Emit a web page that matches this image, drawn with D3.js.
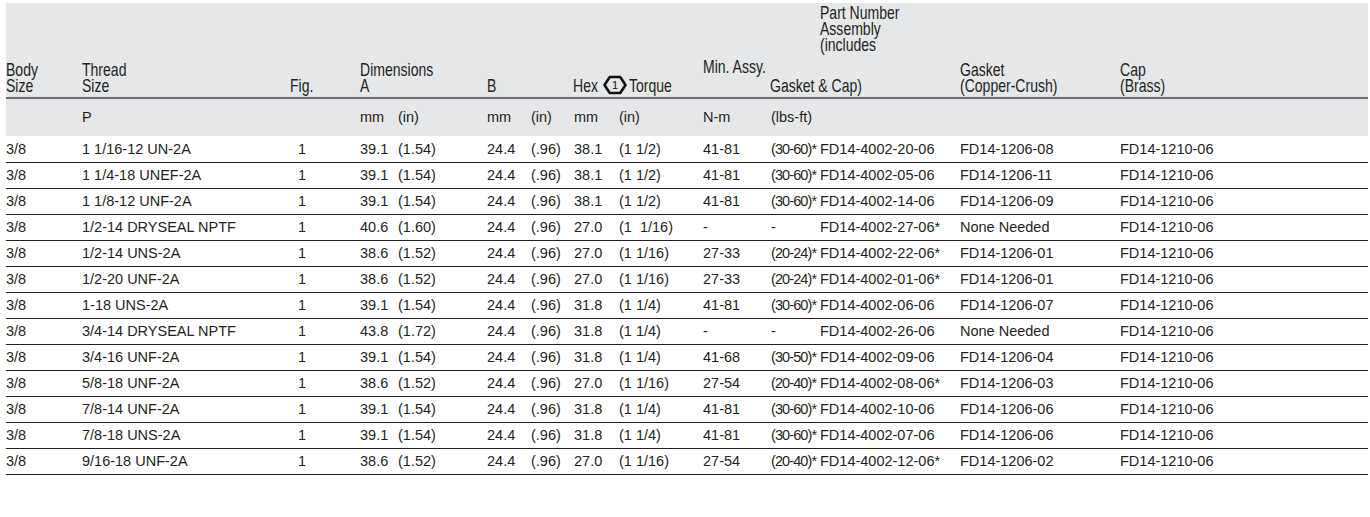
<!DOCTYPE html>
<html><head><meta charset="utf-8">
<script src="https://cdn.jsdelivr.net/npm/d3@7/dist/d3.min.js"></script>
<style>
html,body{margin:0;padding:0;background:#fff;}
svg text{white-space:pre;}
</style></head>
<body><svg id="c" width="1370" height="517"></svg>
<script>
// ---- data ----
const bodySize = ["3/8","3/8","3/8","3/8","3/8","3/8","3/8","3/8","3/8","3/8","3/8","3/8","3/8"];
const threadSize = ["1 1/16-12 UN-2A","1 1/4-18 UNEF-2A","1 1/8-12 UNF-2A","1/2-14 DRYSEAL NPTF","1/2-14 UNS-2A","1/2-20 UNF-2A","1-18 UNS-2A","3/4-14 DRYSEAL NPTF","3/4-16 UNF-2A","5/8-18 UNF-2A","7/8-14 UNF-2A","7/8-18 UNS-2A","9/16-18 UNF-2A"];
const fig = ["1","1","1","1","1","1","1","1","1","1","1","1","1"];
const dimAmm = ["39.1","39.1","39.1","40.6","38.6","38.6","39.1","43.8","39.1","38.6","39.1","39.1","38.6"];
const dimAin = ["(1.54)","(1.54)","(1.54)","(1.60)","(1.52)","(1.52)","(1.54)","(1.72)","(1.54)","(1.52)","(1.54)","(1.54)","(1.52)"];
const dimBmm = ["24.4","24.4","24.4","24.4","24.4","24.4","24.4","24.4","24.4","24.4","24.4","24.4","24.4"];
const dimBin = ["(.96)","(.96)","(.96)","(.96)","(.96)","(.96)","(.96)","(.96)","(.96)","(.96)","(.96)","(.96)","(.96)"];
const hexMm = ["38.1","38.1","38.1","27.0","27.0","27.0","31.8","31.8","31.8","27.0","31.8","31.8","27.0"];
const hexIn = ["(1 1/2)","(1 1/2)","(1 1/2)","(1  1/16)","(1 1/16)","(1 1/16)","(1 1/4)","(1 1/4)","(1 1/4)","(1 1/16)","(1 1/4)","(1 1/4)","(1 1/16)"];
const torqueNm = ["41-81","41-81","41-81","-","27-33","27-33","41-81","-","41-68","27-54","41-81","41-81","27-54"];
const torqueLbsFt = ["(30-60)*","(30-60)*","(30-60)*","-","(20-24)*","(20-24)*","(30-60)*","-","(30-50)*","(20-40)*","(30-60)*","(30-60)*","(20-40)*"];
const partNumber = ["FD14-4002-20-06","FD14-4002-05-06","FD14-4002-14-06","FD14-4002-27-06*","FD14-4002-22-06*","FD14-4002-01-06*","FD14-4002-06-06","FD14-4002-26-06","FD14-4002-09-06","FD14-4002-08-06*","FD14-4002-10-06","FD14-4002-07-06","FD14-4002-12-06*"];
const gasket = ["FD14-1206-08","FD14-1206-11","FD14-1206-09","None Needed","FD14-1206-01","FD14-1206-01","FD14-1206-07","None Needed","FD14-1206-04","FD14-1206-03","FD14-1206-06","FD14-1206-06","FD14-1206-02"];
const cap = ["FD14-1210-06","FD14-1210-06","FD14-1210-06","FD14-1210-06","FD14-1210-06","FD14-1210-06","FD14-1210-06","FD14-1210-06","FD14-1210-06","FD14-1210-06","FD14-1210-06","FD14-1210-06","FD14-1210-06"];
const unitLabels = ["","P","","mm","(in)","mm","(in)","mm","(in)","N-m","(lbs-ft)","","",""];
const columnKeys = ["body","thread","fig","amm","ain","bmm","bin","hmm","hin","nm","lbs","part","gasket","cap"];

// ---- drawing ----
const svg = d3.select("#c");
const left = 6, right = 1368;
const textColor = "#231f20";
const headFont = "'Liberation Sans',Arial,Helvetica,sans-serif";
const bodyFont = "'Liberation Sans',Arial,Helvetica,sans-serif";

const columns = [bodySize, threadSize, fig, dimAmm, dimAin, dimBmm, dimBin, hexMm, hexIn, torqueNm, torqueLbsFt, partNumber, gasket, cap];
const x = d3.scaleOrdinal().domain(columnKeys)
  .range([6, 82, 298, 360, 398, 487, 531, 574, 619, 703, 771, 820, 960, 1120]);
const nRows = bodySize.length;
const y = d3.scaleBand().domain(d3.range(nRows)).range([136, 136 + 26 * nRows]);

// header background
svg.append("rect").attr("x", left).attr("y", 3).attr("width", right - left).attr("height", 133).attr("fill", "#e6e7e8");
// header rule
svg.append("line").attr("x1", left).attr("x2", right).attr("y1", 98).attr("y2", 98)
  .attr("stroke", "#6d6e71").attr("stroke-width", 2);

// header text (condensed via horizontal scale)
const hdr = svg.append("g").attr("font-family", headFont).attr("font-size", 18).attr("fill", textColor);
const headerItems = [
  ["Body", 6, 76], ["Size", 6, 92],
  ["Thread", 82, 76], ["Size", 82, 92],
  ["Fig.", 290, 92],
  ["Dimensions", 360, 76], ["A", 360, 92],
  ["B", 487, 92],
  ["Hex", 573, 92], ["Torque", 629, 92],
  ["Min. Assy.", 703, 73], ["Gasket & Cap)", 770, 92],
  ["Part Number", 820, 19], ["Assembly", 820, 35], ["(includes", 820, 51],
  ["Gasket", 960, 76], ["(Copper-Crush)", 960, 92],
  ["Cap", 1120, 76], ["(Brass)", 1120, 92]
];
hdr.selectAll("text").data(headerItems).join("text")
  .attr("transform", d => `translate(${d[1]},${d[2]}) scale(0.78,1)`).text(d => d[0]);

// hex icon
const hx = 615, hy = 85, hr = 10.5;
const hexPts = d3.range(6).map(i => [hx + hr * Math.cos(i * Math.PI / 3), hy + hr * 0.88 * Math.sin(i * Math.PI / 3)]);
svg.append("path").attr("d", d3.line().curve(d3.curveLinearClosed)(hexPts))
  .attr("fill", "none").attr("stroke", "#111").attr("stroke-width", 2.6).attr("stroke-linejoin", "round");
svg.append("text").attr("x", hx).attr("y", hy + 4).attr("text-anchor", "middle")
  .attr("font-family", bodyFont).attr("font-size", 11).attr("fill", "#111").text("1");

// units row
const body = svg.append("g").attr("font-family", bodyFont).attr("font-size", 14.5).attr("fill", textColor);
body.append("g").selectAll("text").data(columnKeys.map((k, i) => [k, unitLabels[i]]).filter(d => d[1]))
  .join("text").attr("x", d => x(d[0])).attr("y", 122).text(d => d[1]);

// data rows
const rowsG = body.append("g");
d3.range(nRows).forEach(r => {
  const g = rowsG.append("g");
  columnKeys.forEach((k, ci) => {
    g.append("text").attr("x", x(k)).attr("y", y(r) + y.bandwidth() / 2 + 5)
      .attr("letter-spacing", k === "lbs" ? -0.9 : null)
      .text(columns[ci][r]);
  });
});

// row rules
svg.append("g").selectAll("line").data(d3.range(nRows)).join("line")
  .attr("x1", left).attr("x2", right)
  .attr("y1", r => y(r) + y.bandwidth() + 0.5).attr("y2", r => y(r) + y.bandwidth() + 0.5)
  .attr("stroke", textColor).attr("stroke-width", 1);
</script></body></html>
